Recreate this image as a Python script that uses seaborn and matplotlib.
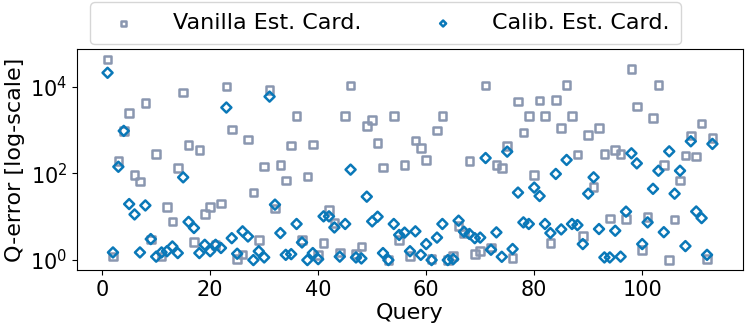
import numpy as np
import pandas as pd
import seaborn as sns
import matplotlib.pyplot as plt

query = np.arange(1, 114)

vanilla = [42600, 1.2, 196, 955, 2440, 92, 65, 4200, 3.0, 284,
           1.2, 17, 7.8, 135, 7400, 454, 2.6, 347, 11.5, 17,
           2.2, 20.3, 10000, 1020, 1.05, 1.35, 610, 36, 2.95, 145,
           8500, 15.5, 156, 68, 444, 2140, 2.95, 85, 460, 1.32,
           2.5, 14.3, 7.1, 1.5, 2140, 10600, 1.37, 2.06, 1240, 1700,
           505, 138, 1.0, 2140, 2.9, 156, 1.25, 570, 385, 204,
           1.05, 975, 2140, 1.0, 1.25, 6.1, 4.1, 190, 1.37, 1.6,
           10600, 1.95, 156, 133, 430, 1.1, 4530, 870, 2140, 93,
           4800, 2140, 2.47, 5000, 1120, 10900, 2140, 270, 3.6, 770,
           49, 1120, 280, 9.1, 347, 280, 8.8, 25200, 3470, 1.7,
           10, 1910, 10900, 156, 1.0, 8.7, 68, 257, 740, 244,
           1420, 1.05, 660]

calib = [20900, 1.5, 142, 955, 19.6, 11.3, 1.5, 18.2, 3.05, 1.2,
         1.5, 1.6, 2.06, 1.45, 81, 7.6, 5.5, 1.45, 2.25, 1.6,
         2.25, 1.9, 3300, 3.2, 1.4, 4.6, 3.5, 1.0, 1.6, 1.15,
         5900, 19, 4.2, 1.32, 1.37, 6.8, 2.55, 1.0, 1.45, 1.05,
         10.2, 10.2, 5.65, 1.2, 6.8, 122, 1.15, 1.09, 29, 7.8,
         10.0, 1.45, 1.0, 6.8, 3.8, 4.3, 1.6, 4.6, 1.32, 2.34,
         1.0, 3.3, 6.8, 1.0, 1.05, 8.1, 4.5, 4.0, 3.2, 3.3,
         226, 1.73, 4.35, 1.19, 317, 1.8, 36, 7.4, 6.8, 47,
         30, 6.8, 4.2, 97, 5.1, 204, 6.8, 6.4, 2.34, 34,
         81, 5.2, 1.15, 1.15, 4.75, 1.2, 13.1, 290, 170, 2.34,
         7.4, 44, 115, 4.4, 322, 34, 115, 2.1, 550, 13.2,
         9.3, 1.32, 478]

df = pd.DataFrame({'Query': query, 'vanilla': vanilla, 'calib': calib})

plt.rcParams['font.family'] = 'DejaVu Sans'
fig = plt.figure(figsize=(7.47, 3.29), dpi=100)
ax = fig.add_axes([0.1035, 0.179, 0.8907, 0.671])

sns.scatterplot(data=df, x='Query', y='vanilla', marker='s', s=30,
                facecolors='none', edgecolor='#8a97b0', linewidth=1.8,
                label='Vanilla Est. Card.', ax=ax)
sns.scatterplot(data=df, x='Query', y='calib', marker='D', s=26,
                facecolors='none', edgecolor='#0a78b8', linewidth=1.8,
                label='Calib. Est. Card.', ax=ax)

ax.set_yscale('log')
ax.set_yticks([1, 100, 10000])
ax.minorticks_off()
ax.tick_params(labelsize=15)
ax.set_xlabel('Query', fontsize=16, labelpad=2)
ax.set_ylabel('Q-error [log-scale]', fontsize=16)

ax.legend(loc='upper center', bbox_to_anchor=(0.516, 1.0), bbox_transform=fig.transFigure,
          ncol=2, fontsize=16, markerscale=0.6, columnspacing=2.7, handletextpad=1.2,
          frameon=True, borderpad=0.5, borderaxespad=0.1)

plt.savefig('out.png', dpi=100)
